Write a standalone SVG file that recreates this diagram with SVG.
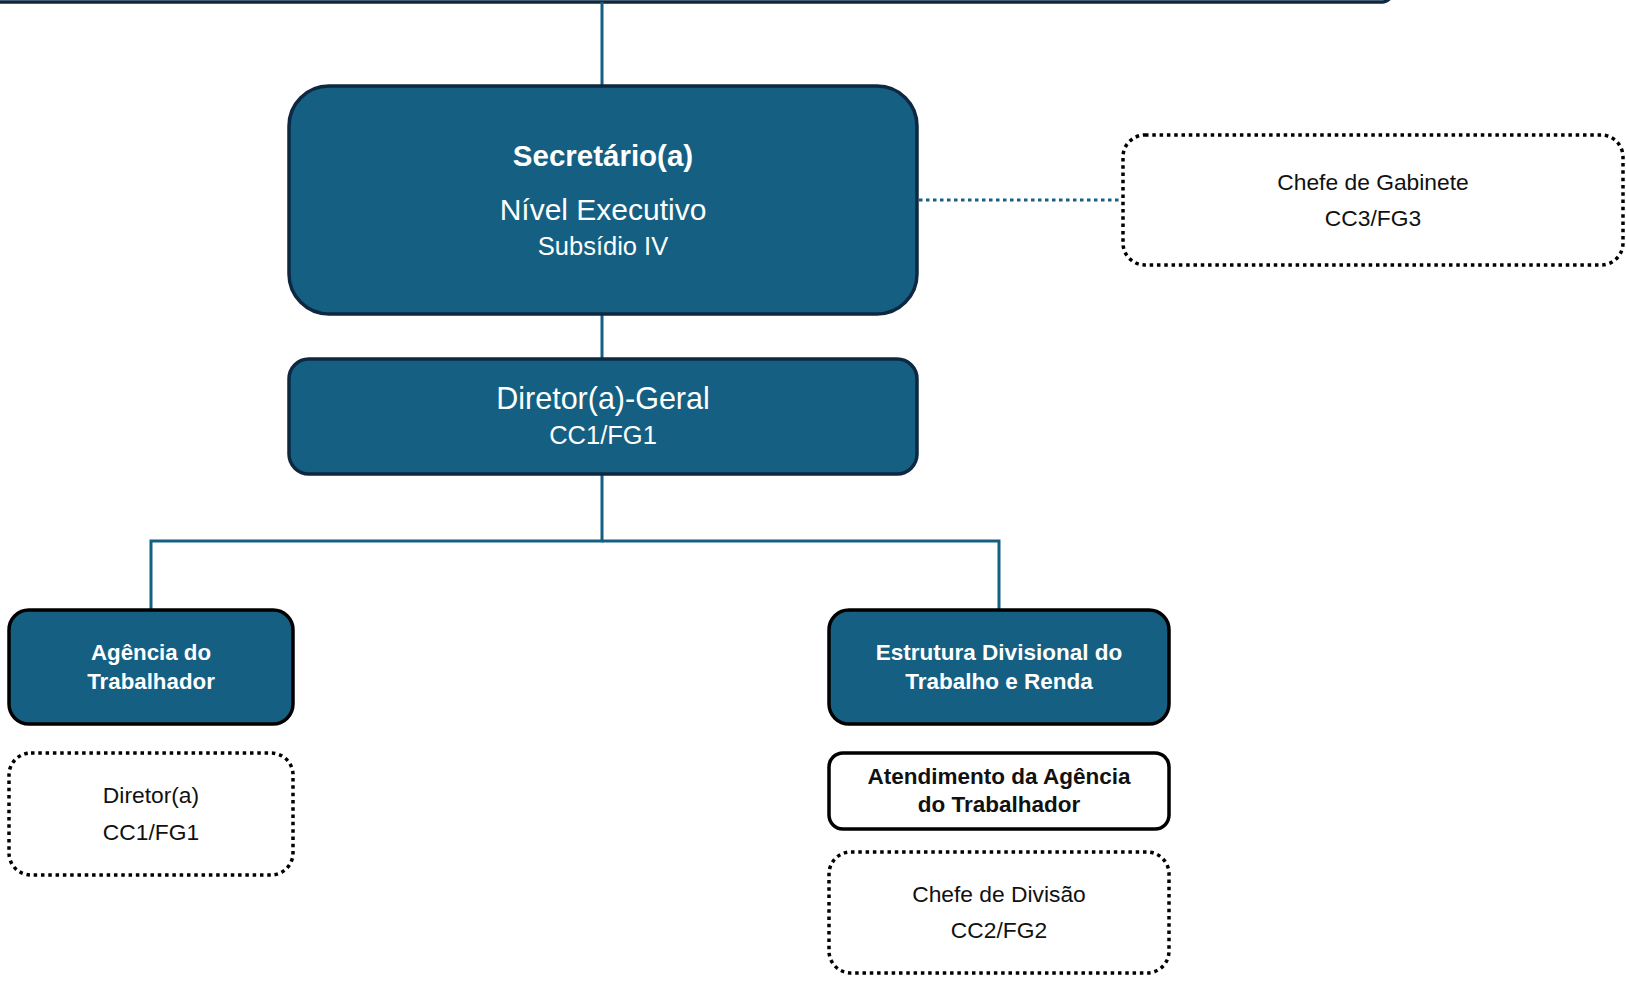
<svg xmlns="http://www.w3.org/2000/svg" width="1626" height="981" viewBox="0 0 1626 981">
<style>
.blue{fill:#156082;stroke:#0e2841;stroke-width:3.5}
.blueb{fill:#156082;stroke:#000;stroke-width:3.5}
.white{fill:#fff;stroke:#000;stroke-width:3.5}
.dot{fill:#fff;stroke:#000;stroke-width:3.5;stroke-dasharray:3.5 3.8}
.con{fill:none;stroke:#156082;stroke-width:3}
.t{font-family:"Liberation Sans",Arial,sans-serif;text-anchor:middle}
.w{fill:#fff}
.k{fill:#111}
.b{font-weight:bold}
</style>
<g id="top-box">
<rect x="-20" y="-60" width="1412" height="62" rx="10" fill="#fff" stroke="#0e2841" stroke-width="3.5"/>
</g>
<g id="connectors">
<line class="con" x1="602" y1="2" x2="602" y2="86"/>
<line class="con" x1="602" y1="314" x2="602" y2="359"/>
<polyline class="con" points="602,474 602,541 151,541 151,610"/>
<polyline class="con" points="602,541 999,541 999,610"/>
<line class="con" x1="919" y1="200" x2="1122" y2="200" stroke-dasharray="3.5 3.5" stroke-width="4"/>
</g>
<g id="secretario">
<rect class="blue" x="289" y="86" width="628" height="228" rx="40"/>
<text class="t w b" x="603" y="166" font-size="29.5">Secretário(a)</text>
<text class="t w" x="603" y="220" font-size="30">Nível Executivo</text>
<text class="t w" x="603" y="255" font-size="25.5">Subsídio IV</text>
</g>
<g id="diretor-geral">
<rect class="blue" x="289" y="359" width="628" height="115" rx="20"/>
<text class="t w" x="603" y="409" font-size="30.5">Diretor(a)-Geral</text>
<text class="t w" x="603" y="444" font-size="25.5">CC1/FG1</text>
</g>
<g id="chefe-gabinete">
<rect class="dot" x="1123" y="135" width="500" height="130" rx="22"/>
<text class="t k" x="1373" y="190" font-size="22.8">Chefe de Gabinete</text>
<text class="t k" x="1373" y="226" font-size="22.8">CC3/FG3</text>
</g>
<g id="agencia">
<rect class="blueb" x="9" y="610" width="284" height="114" rx="20"/>
<text class="t w b" x="151" y="660" font-size="22.3">Agência do</text>
<text class="t w b" x="151" y="689" font-size="22.3">Trabalhador</text>
</g>
<g id="diretor-agencia">
<rect class="dot" x="9" y="753" width="284" height="122" rx="22"/>
<text class="t k" x="151" y="803" font-size="22.8">Diretor(a)</text>
<text class="t k" x="151" y="840" font-size="22.8">CC1/FG1</text>
</g>
<g id="estrutura">
<rect class="blueb" x="829" y="610" width="340" height="114" rx="20"/>
<text class="t w b" x="999" y="660" font-size="22.5">Estrutura Divisional do</text>
<text class="t w b" x="999" y="689" font-size="22.5">Trabalho e Renda</text>
</g>
<g id="atendimento">
<rect class="white" x="829" y="753" width="340" height="76" rx="14"/>
<text class="t k b" x="999" y="784" font-size="22.5">Atendimento da Agência</text>
<text class="t k b" x="999" y="812" font-size="22.5">do Trabalhador</text>
</g>
<g id="chefe-divisao">
<rect class="dot" x="829" y="852" width="340" height="121" rx="22"/>
<text class="t k" x="999" y="902" font-size="22.8">Chefe de Divisão</text>
<text class="t k" x="999" y="938" font-size="22.8">CC2/FG2</text>
</g>
</svg>
